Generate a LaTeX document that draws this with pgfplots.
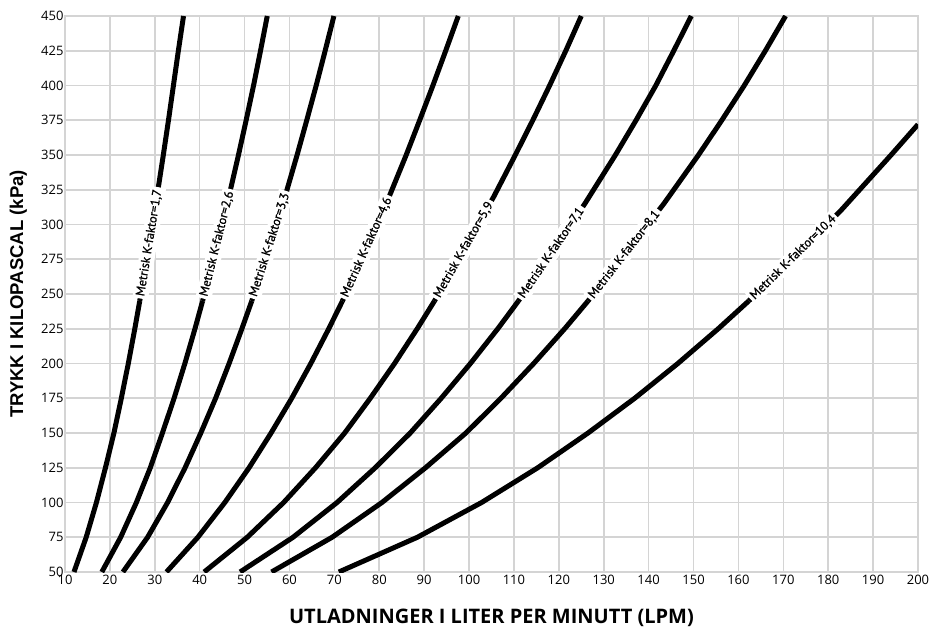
\documentclass[border=0pt]{standalone}
\usepackage{fontspec}
\setmainfont{PT Sans}
\newfontfamily\arialfont{Liberation Sans}
\newfontfamily\tickfont{Open Sans}
\newfontfamily\labfont[RawFeature={embolden=1.0}]{PT Sans}
\usepackage{pgfplots}
\pgfplotsset{compat=1.18}
\definecolor{gridc}{RGB}{212,212,212}
\tikzset{klabel/.style={pos=0, sloped, anchor=west, fill=white, text=black, inner sep=2.5pt, font=\fontsize{12.5}{12.5}\selectfont\labfont},
  kline/.style={draw=black, line width=5pt, line join=round, mark=none, solid}}
\begin{document}
\begin{tikzpicture}
\begin{axis}[
  scale only axis, width=853pt, height=556pt,
  xmin=10, xmax=200, ymin=50, ymax=450,
  xtick={10,20,...,200}, ytick={50,75,...,450},
  grid=major, grid style={draw=gridc, line width=1.6pt},
  axis line style={draw=gridc, line width=1.6pt},
  major tick length=0pt,
  /pgf/number format/assume math mode=true,
  tick label style={font=\fontsize{13}{13}\selectfont\tickfont},
  yticklabel style={anchor=east, xshift=2pt},
  xlabel={UTLADNINGER I LITER PER MINUTT (LPM)},
  xlabel style={at={(axis description cs:0.5,-0.0935)}, anchor=base, font=\fontsize{20}{20}\selectfont\tickfont\bfseries},
  ylabel={TRYKK I KILOPASCAL (kPa)},
  ylabel style={at={(axis description cs:-0.0492,0.5)}, rotate=0, anchor=base, font=\fontsize{18.5}{18.5}\selectfont\arialfont\bfseries},
]
% K = 1,7
\addplot[kline] coordinates {(12.0,50) (14.72,75) (17.0,100) (19.01,125) (20.9,150) (22.55,175) (24.1,200) (25.55,225) (26.65,245)};
\addplot[kline] coordinates {(26.65,245) (30.95,330) (31.9,350) (33.05,375) (34.15,400) (35.25,425) (36.4,450)} node[klabel] {Metrisk K-faktor=1,7};
% K = 2,6
\addplot[kline] coordinates {(18.2,50) (22.4,75) (25.9,100) (29.0,125) (31.7,150) (34.3,175) (36.7,200) (38.95,225) (40.65,245)};
\addplot[kline] coordinates {(40.65,245) (47.0,327) (48.64,350) (50.35,375) (52.0,400) (53.55,425) (55.05,450)} node[klabel] {Metrisk K-faktor=2,6};
% K = 3,3
\addplot[kline] coordinates {(22.9,50) (28.4,75) (32.85,100) (36.75,125) (40.25,150) (43.55,175) (46.55,200) (49.4,225) (51.6,245)};
\addplot[kline] coordinates {(51.6,245) (59.45,325) (61.7,350) (63.85,375) (65.95,400) (67.95,425) (69.9,450)} node[klabel] {Metrisk K-faktor=3,3};
% K = 4,6
\addplot[kline] coordinates {(32.6,50) (39.6,75) (45.6,100) (51.0,125) (55.9,150) (60.5,175) (64.75,200) (68.75,225) (71.8,245)};
\addplot[kline] coordinates {(71.8,245) (82.2,320) (86.0,350) (89.0,375) (91.95,400) (94.8,425) (97.6,450)} node[klabel] {Metrisk K-faktor=4,6};
% K = 5,9
\addplot[kline] coordinates {(41.0,50) (50.6,75) (58.7,100) (65.8,125) (72.3,150) (78.0,175) (83.4,200) (88.45,225) (92.3,245)};
\addplot[kline] coordinates {(92.3,245) (105.5,320) (110.3,350) (114.2,375) (117.95,400) (121.55,425) (125.0,450)} node[klabel] {Metrisk K-faktor=5,9};
% K = 7,1
\addplot[kline] coordinates {(49.0,50) (60.8,75) (70.6,100) (79.1,125) (86.9,150) (93.8,175) (100.3,200) (106.4,225) (111.0,245)};
\addplot[kline] coordinates {(111.0,245) (125.8,315) (132.6,350) (137.2,375) (141.6,400) (145.6,425) (149.5,450)} node[klabel] {Metrisk K-faktor=7,1};
% K = 8,1
\addplot[kline] coordinates {(56.0,50) (69.5,75) (80.6,100) (90.3,125) (99.3,150) (107.1,175) (114.4,200) (121.3,225) (126.5,245)};
\addplot[kline] coordinates {(126.5,245) (143.4,315) (151.1,350) (156.3,375) (161.3,400) (166.0,425) (170.5,450)} node[klabel] {Metrisk K-faktor=8,1};
% K = 10,4
\addplot[kline] coordinates {(71.0,50) (88.5,75) (102.8,100) (115.3,125) (126.5,150) (136.9,175) (146.5,200) (155.5,225) (162.3,245)};
\addplot[kline] coordinates {(162.3,245) (182.8,310) (194.0,350) (200.0,372)} node[klabel] {Metrisk K-faktor=10,4};
\end{axis}
\pgfresetboundingbox
\path[use as bounding box] (-65pt,-58pt) rectangle (865pt,572pt);
\end{tikzpicture}
\end{document}
